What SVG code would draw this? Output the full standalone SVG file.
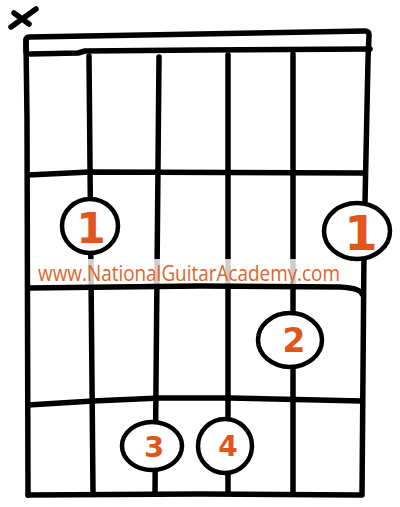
<svg xmlns="http://www.w3.org/2000/svg" width="400" height="507" viewBox="0 0 400 507">
<style>
.ln{fill:none;stroke:#000;stroke-width:5.5;stroke-linecap:round;stroke-linejoin:round}
.dot{fill:#fff;stroke:#000;stroke-width:4.5}
.num{fill:#E0561C;font-family:"DejaVu Sans",sans-serif;font-weight:bold;text-anchor:middle}
.url{fill:#E06428;font-family:"Open Sans",sans-serif;font-size:22px}
</style>
<rect width="400" height="507" fill="#fff"/>
<g id="mute-x">
<path class="ln" d="M11,27 L36,9 M14,13 L29,24"/>
</g>
<g id="connectors">
<path class="ln" d="M26,52 L26,40 Q26,37 30,37 L200,34 L365,31 Q369,31 369,35 L368,60 L364,250 L362,495"/>
<path class="ln" d="M26,40 L27,120 L28,495"/>
<path class="ln" d="M30,54 L78,53 L85,51 L200,50 L370,49"/>
<path class="ln" d="M28,175 L90,172 L363,173"/>
<path class="ln" d="M28,405 L93,401 L160,398 L230,398 L362,401"/>
<path class="ln" d="M28,495 L200,494 L360,495"/>
<path class="ln" d="M89,56 L93,492"/>
<path class="ln" d="M159,57 L155,492"/>
<path class="ln" d="M228,55 L228,492"/>
<path class="ln" d="M293,54 L293,492"/>
</g>
<g id="watermark">
<rect x="35" y="259" width="316" height="26" fill="#fff" opacity="0.8"/>
<text class="url" x="38" y="281" textLength="302" lengthAdjust="spacingAndGlyphs">www.NationalGuitarAcademy.com</text>
</g>
<g id="fret-2">
<path class="ln" d="M28,288 L200,286 L340,287 Q360,288 362,294"/>
</g>
<g id="finger-1-low">
<ellipse class="dot" cx="90" cy="226" rx="28" ry="27"/>
<text class="num" x="91" y="243" font-size="42">1</text>
</g>
<g id="finger-1-high">
<ellipse class="dot" cx="357" cy="231" rx="33" ry="28"/>
<text class="num" x="361" y="250" font-size="48">1</text>
</g>
<g id="finger-2">
<ellipse class="dot" cx="290" cy="340" rx="32" ry="27"/>
<text class="num" x="294" y="352" font-size="33">2</text>
</g>
<g id="finger-3">
<ellipse class="dot" cx="152" cy="446" rx="30" ry="24"/>
<text class="num" x="154" y="457" font-size="29">3</text>
</g>
<g id="finger-4">
<ellipse class="dot" cx="225" cy="446" rx="27" ry="27"/>
<text class="num" x="228" y="456" font-size="28">4</text>
</g>
</svg>
